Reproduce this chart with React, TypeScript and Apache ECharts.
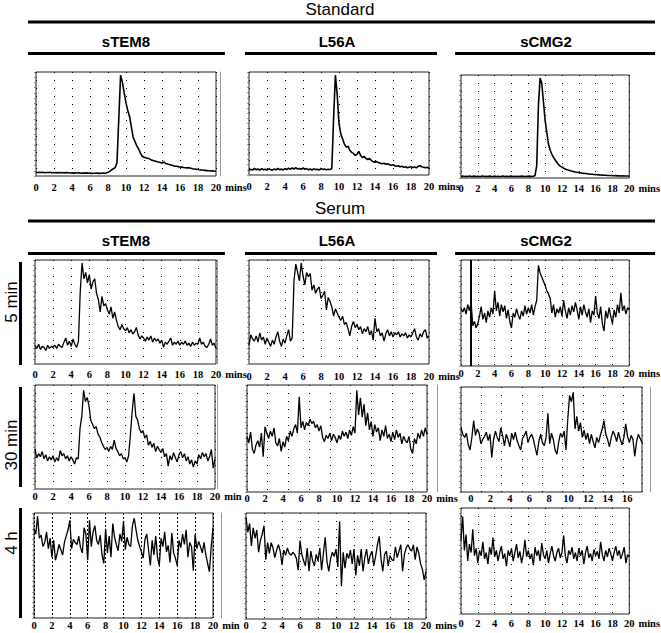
import React, { useEffect, useRef } from "react";
import * as echarts from "echarts";

// ---- sampling grid (minutes) ----
const TIME = [
  0, 0.2, 0.4, 0.6, 0.8, 1, 1.2, 1.4, 1.6, 1.8,
  2, 2.2, 2.4, 2.6, 2.8, 3, 3.2, 3.4, 3.6, 3.8,
  4, 4.2, 4.4, 4.6, 4.8, 5, 5.2, 5.4, 5.6, 5.8,
  6, 6.2, 6.4, 6.6, 6.8, 7, 7.2, 7.4, 7.6, 7.8,
  8, 8.2, 8.4, 8.6, 8.8, 9, 9.2, 9.4, 9.6, 9.8,
  10, 10.2, 10.4, 10.6, 10.8, 11, 11.2, 11.4, 11.6, 11.8,
  12, 12.2, 12.4, 12.6, 12.8, 13, 13.2, 13.4, 13.6, 13.8,
  14, 14.2, 14.4, 14.6, 14.8, 15, 15.2, 15.4, 15.6, 15.8,
  16, 16.2, 16.4, 16.6, 16.8, 17, 17.2, 17.4, 17.6, 17.8,
  18, 18.2, 18.4, 18.6, 18.8, 19, 19.2, 19.4, 19.6, 19.8,
  20,
];

// ---- signal (% of full scale) ----
const STD_STEM8 = [
  3.5, 3.4, 3.6, 3.3, 3.5, 3.2, 3.4, 3.3, 3.5, 3.1,
  3.2, 3.4, 3.0, 3.3, 3.1, 3.2, 3.0, 3.3, 3.1, 2.9,
  3.0, 2.8, 3.1, 2.9, 3.0, 2.7, 2.9, 2.8, 3.0, 2.6,
  2.8, 2.5, 2.7, 2.6, 2.8, 2.5, 2.6, 2.8, 2.7, 2.9,
  3.5, 4.5, 6, 7, 8, 13, 55, 97, 90, 80,
  70, 63, 57, 47, 37, 33, 29, 26, 22, 19,
  18, 17.5, 17, 16.5, 15.5, 15, 14.5, 14, 13.5, 13,
  12.5, 13.5, 12, 11.5, 11, 10.5, 10, 9.5, 9.3, 9,
  8.7, 8.5, 8.2, 8, 7.8, 8, 7.5, 7, 6.8, 6.5,
  6.2, 6, 5.8, 5.6, 5.4, 5.2, 5, 4.8, 5, 4.6,
  4.5,
];
const STD_L56A = [
  4.5, 5.5, 4.8, 6.5, 5.0, 5.8, 4.6, 6.2, 5.1, 5.6,
  4.8, 6.0, 5.2, 4.7, 5.9, 5.0, 6.3, 5.2, 5.7, 4.9,
  6.1, 5.3, 6.6, 5.4, 6.9, 5.6, 7.2, 5.8, 6.4, 5.5,
  6.8, 5.6, 6.2, 5.0, 5.8, 4.9, 6.0, 5.2, 5.5, 4.8,
  6.5, 5.4, 5.9, 5.0, 5.6, 5.3, 6.0, 55, 97, 78,
  50, 40, 35, 30, 27, 28, 24, 22, 21, 19,
  20, 23, 19, 17, 18, 16, 15, 16, 14, 13,
  12.5, 13, 12, 11.5, 11, 11.5, 10.5, 11, 10, 9.5,
  10, 9, 8.5, 9, 8, 8.5, 7.5, 8, 7, 7.5,
  8, 7.2, 7.8, 7, 8.5, 9, 8, 7.5, 7, 7.5,
  6.5,
];
const STD_SCMG2 = [
  1.5, 1.8, 1.4, 1.7, 1.5, 1.9, 1.4, 1.6, 1.8, 1.5,
  1.7, 1.4, 1.6, 1.9, 1.5, 1.7, 1.4, 1.8, 1.6, 1.5,
  1.8, 1.5, 1.7, 1.4, 1.6, 1.9, 1.5, 1.7, 1.4, 1.6,
  1.8, 1.5, 1.6, 1.4, 1.7, 1.5, 1.8, 1.6, 1.4, 1.7,
  1.6, 1.8, 1.5, 1.7, 2.5, 12, 70, 97, 92, 74,
  56, 44, 33, 27, 23, 20, 17.5, 15, 13, 11.5,
  10.5, 9.5, 8.8, 8, 7.5, 7, 6.6, 6.2, 5.8, 5.5,
  5.2, 5, 4.7, 4.5, 4.3, 4.1, 3.9, 3.7, 3.6, 3.4,
  3.3, 3.1, 3, 2.9, 2.8, 2.7, 2.6, 2.5, 2.4, 2.5,
  2.3, 2.2, 2.3, 2.1, 2.2, 2.0, 2.1, 1.9, 2.0, 1.9,
  1.8,
];
const MIN5_STEM8 = [
  18, 15, 19, 14, 17, 16, 13, 18, 15, 17,
  16, 18, 15, 19, 17, 16, 21, 25, 18, 22,
  17, 24, 19, 16, 22, 70, 97, 82, 88, 78,
  86, 72, 79, 82, 68, 62, 50, 65, 56, 58,
  52, 48, 55, 44, 50, 42, 36, 33, 38, 34,
  32, 35, 30, 33, 29, 31, 35, 28, 24, 27,
  25, 22, 26, 23, 27, 21, 25, 22, 24, 20,
  23, 16, 21, 19, 22, 25, 18, 21, 19, 22,
  18, 21, 19, 22, 18, 20, 17, 21, 18, 20,
  19, 25, 19, 21, 17, 16, 19, 24, 18, 20,
  15,
];
const MIN5_L56A = [
  18, 28, 24, 22, 27, 21, 30, 23, 26, 19,
  25, 21, 17, 23, 19, 26, 31, 22, 17, 24,
  20, 27, 33, 22, 25, 80, 96, 88, 80, 97,
  85, 76, 88, 84, 87, 71, 76, 68, 72, 74,
  63, 66, 70, 52, 64, 60, 55, 46, 53, 49,
  45, 42, 46, 38, 40, 34, 27, 36, 41, 35,
  38, 33, 36, 29, 34, 31, 36, 28, 32, 23,
  44, 31, 34, 27, 30, 22, 29, 33, 27, 31,
  26, 30, 28, 31, 26, 29, 27, 30, 25, 28,
  26, 30, 34, 26, 23, 29, 26, 31, 33, 25,
  27,
];
const MIN5_SCMG2 = [
  54, 51, 55, 49, 58, 52, 60, 38, 42, 36,
  40, 47, 56, 44, 50, 41, 52, 46, 55, 49,
  71, 52, 60, 47, 58, 51, 57, 45, 53, 42,
  36, 50, 46, 54, 48, 44, 52, 47, 57, 49,
  55, 50, 58, 48, 56, 62, 95, 88, 84, 80,
  76, 71, 68, 64, 50, 58, 46, 54, 50, 56,
  47, 62, 52, 45, 55, 48, 57, 51, 60, 53,
  44, 56, 48, 58, 51, 46, 54, 41, 52, 48,
  66, 50, 45, 56, 40, 33, 52, 45, 55, 47,
  40, 53, 46, 58, 50, 69, 52, 57, 49, 55,
  53,
];
const MIN30_STEM8 = [
  38, 30, 34, 31, 36, 29, 33, 27, 31, 28,
  32, 26, 30, 27, 37, 32, 34, 29, 32, 27,
  31, 28, 24, 30, 29, 58, 70, 95, 84, 88,
  80, 66, 62, 58, 60, 53, 50, 45, 41, 38,
  40, 36, 41, 38, 47, 39, 36, 32, 34, 29,
  30, 26, 32, 52, 75, 92, 70, 66, 58, 54,
  56, 49, 52, 42, 46, 40, 44, 36, 41, 38,
  35, 39, 31, 34, 22, 32, 28, 35, 30, 26,
  33, 36, 30, 34, 27, 31, 24, 28, 21, 27,
  24, 33, 29, 35, 31, 34, 27, 31, 38, 20,
  29,
];
const MIN30_L56A = [
  52, 46, 56, 40, 36, 44, 48, 42, 55, 33,
  61, 55, 50, 57, 52, 60, 46, 43, 50, 38,
  47, 42, 52, 48, 57, 52, 59, 63, 55, 89,
  60, 66, 58, 65, 62, 68, 64, 66, 60, 63,
  57, 62, 51, 47, 53, 50, 55, 48, 54, 51,
  46, 53, 49, 57, 52, 56, 50, 58, 53, 61,
  55, 95, 72, 88, 70, 82, 62, 74, 58, 66,
  52, 63, 56, 60, 48, 58, 52, 62, 50, 54,
  47, 56, 49, 58, 51, 55, 45, 52, 48, 46,
  52, 40, 36, 50, 45, 55, 50, 58, 52, 60,
  54,
];
const MIN30_SCMG2 = [
  61, 55, 52, 56, 45, 40, 52, 68, 54, 60,
  56, 46, 50, 53, 57, 49, 55, 33, 50, 58,
  52, 48, 61, 54, 44, 55, 50, 43, 56, 50,
  57, 49, 44, 40, 51, 54, 58, 47, 52, 55,
  50, 42, 35, 48, 55, 47, 44, 52, 75, 46,
  56, 50, 40, 36, 48, 56, 52, 58, 40, 70,
  92, 86, 95, 60, 72, 58, 66, 52, 59, 50,
  56, 46, 55, 48, 42, 52, 47, 54, 60, 68,
  55, 50, 43, 52, 58, 54, 48, 57, 50, 45,
  52, 65, 53, 47, 54, 50, 34, 48, 55, 51,
  47,
];
const H4_STEM8 = [
  85, 80, 97, 76, 79, 68, 72, 82, 66, 76,
  58, 74, 55, 62, 70, 65, 60, 72, 78, 84,
  93, 66, 75, 72, 70, 78, 67, 62, 86, 80,
  55, 93, 68, 82, 88, 74, 70, 79, 60, 52,
  85, 62, 78, 58, 90, 77, 70, 64, 80, 73,
  92, 65, 77, 70, 68, 88, 95, 84, 74, 68,
  63, 57, 75, 80, 65, 50, 74, 60, 78, 58,
  50, 76, 68, 82, 63, 69, 53, 81, 62, 57,
  50, 74, 67, 80, 70, 84, 58, 72, 68, 45,
  80, 66, 73, 68, 62, 72, 60, 52, 44, 68,
  86,
];
const H4_L56A = [
  96, 82, 90, 69, 86, 76, 84, 63, 74, 80,
  88, 56, 72, 62, 72, 67, 58, 65, 70, 64,
  51, 65, 60, 67, 62, 60, 63, 61, 57, 46,
  74, 61, 55, 50, 67, 45, 64, 55, 50, 61,
  55, 67, 46, 62, 77, 54, 45, 57, 63, 59,
  66, 49, 92, 31, 63, 48, 62, 57, 65, 52,
  66, 41, 60, 50, 66, 45, 58, 66, 52, 60,
  64, 50, 59, 70, 78, 57, 45, 61, 64, 50,
  60, 56, 55, 68, 58, 64, 70, 45, 61, 67,
  70, 66, 64, 70, 56, 68, 62, 52, 47, 37,
  45,
];
const H4_SCMG2 = [
  70, 92, 60, 75, 50, 66, 58, 80, 55, 62,
  48, 60, 55, 68, 52, 58, 47, 63, 56, 72,
  54, 60, 50, 58, 64, 52, 57, 45, 60, 55,
  62, 50, 58, 66, 53, 59, 48, 56, 70, 54,
  60, 52, 57, 46, 63, 55, 60, 50, 67, 56,
  52, 60, 48, 57, 64, 55, 50, 58, 62, 53,
  58, 74, 55, 48, 60, 56, 63, 52, 58, 50,
  62, 55, 60, 47, 58, 64, 53, 57, 50, 61,
  55, 59, 52, 68, 56, 50, 60, 54, 62, 57,
  50, 58, 64, 55, 60, 52, 57, 63, 48, 56,
  54,
];

// ---- texts / tick labels ----
const SECTION_LABELS = ["Standard", "Serum"];
const COLUMN_LABELS = ["sTEM8", "L56A", "sCMG2"];
const ROW_LABELS = ["5 min", "30 min", "4 h"];
const TICKS_FULL = [0, 2, 4, 6, 8, 10, 12, 14, 16, 18, 20];
const TICKS_SHORT = [0, 2, 4, 6, 8, 10, 12, 14, 16];
const ARTIFACT_TIME = 1.1; // stray vertical line in 5 min sCMG2 trace

const PANEL_DATA = [
  STD_STEM8, STD_L56A, STD_SCMG2,
  MIN5_STEM8, MIN5_L56A, MIN5_SCMG2,
  MIN30_STEM8, MIN30_L56A, MIN30_SCMG2,
  H4_STEM8, H4_L56A, H4_SCMG2,
];

// ---- layout (px) ----
type Lay = {
  l: number; t: number; w: number; h: number;
  labelMin: number; labelMax: number; ticks: number[]; dotMax: number; unit: string;
  dash: number[]; margin: number; rOff: number | null;
};
const LAYOUT: Lay[] = [
  { l: 36, t: 72, w: 180, h: 104, labelMin: 0, labelMax: 20, ticks: TICKS_FULL, dotMax: 20, unit: "mins", dash: [1, 7], margin: 6, rOff: 4 },
  { l: 249, t: 72, w: 180, h: 103, labelMin: 0, labelMax: 20, ticks: TICKS_FULL, dotMax: 20, unit: "mins", dash: [1, 7], margin: 6, rOff: null },
  { l: 461, t: 75, w: 180, h: 103, labelMin: 0, labelMax: 20, ticks: TICKS_FULL, dotMax: 20, unit: "mins", dash: [1, 7], margin: 5, rOff: null },
  { l: 35, t: 260, w: 181, h: 104, labelMin: 0, labelMax: 20, ticks: TICKS_FULL, dotMax: 20, unit: "mins", dash: [1, 7], margin: 5, rOff: 1 },
  { l: 249, t: 260, w: 180, h: 104, labelMin: 0, labelMax: 20, ticks: TICKS_FULL, dotMax: 20, unit: "mins", dash: [1, 7], margin: 7, rOff: null },
  { l: 461, t: 260, w: 178, h: 106, labelMin: 0, labelMax: 20, ticks: TICKS_FULL, dotMax: 20, unit: "mins", dash: [1, 7], margin: 2, rOff: null },
  { l: 35, t: 385, w: 180, h: 104, labelMin: 0, labelMax: 20, ticks: TICKS_FULL, dotMax: 20, unit: "min", dash: [1, 7], margin: 2, rOff: 2 },
  { l: 247, t: 385, w: 180, h: 107, labelMin: 0, labelMax: 20, ticks: TICKS_FULL, dotMax: 17.4, unit: "mins", dash: [1, 7], margin: 1, rOff: 10 },
  { l: 461, t: 387, w: 181, h: 105, labelMin: -1, labelMax: 17.5, ticks: TICKS_SHORT, dotMax: 17.8, unit: "", dash: [1, 7], margin: 1, rOff: 8 },
  { l: 34, t: 513, w: 179, h: 105, labelMin: 0, labelMax: 20, ticks: TICKS_FULL, dotMax: 20, unit: "min", dash: [2, 2], margin: 2, rOff: 8 },
  { l: 246, t: 513, w: 180, h: 106, labelMin: 0, labelMax: 20, ticks: TICKS_FULL, dotMax: 20, unit: "mins", dash: [1, 7], margin: 1, rOff: null },
  { l: 461, t: 508, w: 180, h: 106, labelMin: 0, labelMax: 20, ticks: TICKS_FULL, dotMax: 20, unit: "mins", dash: [1, 7], margin: 4, rOff: null },
];

const SANS = '"Liberation Sans", Arial, sans-serif';
const SERIF = '"Liberation Serif", "Times New Roman", serif';

function buildOption() {
  const grid: any[] = [];
  const xAxis: any[] = [];
  const yAxis: any[] = [];
  const series: any[] = [];
  LAYOUT.forEach((p, i) => {
    grid.push({
      left: p.l, top: p.t, width: p.w, height: p.h,
      show: true, borderColor: "#222", borderWidth: 1, backgroundColor: "transparent",
    });
    // data axis
    xAxis.push({ gridIndex: i, type: "value", min: 0, max: 20, show: false });
    // label axis
    xAxis.push({
      gridIndex: i, type: "value", min: p.labelMin, max: p.labelMax, position: "bottom",
      axisLine: { show: false, onZero: false }, axisTick: { show: false }, splitLine: { show: false },
      axisLabel: {
        show: true, color: "#000", fontFamily: SERIF, fontSize: 10.5, fontWeight: "bold",
        margin: p.margin, customValues: p.ticks, formatter: (v: number) => String(v),
      },
      name: p.unit, nameLocation: "end", nameGap: 5,
      nameTextStyle: {
        color: "#000", fontFamily: SERIF, fontSize: 10.5, fontWeight: "bold", align: "left",
        verticalAlign: "top", padding: [p.margin, 0, 0, 0],
      },
    });
    // dotted grid axis
    xAxis.push({
      gridIndex: i, type: "value", min: 0, max: p.dotMax, interval: 2, position: "top",
      axisLine: { show: false, onZero: false }, axisTick: { show: false }, axisLabel: { show: false },
      splitLine: { show: true, lineStyle: { type: p.dash, color: "#000", width: 1 } },
    });
    yAxis.push({
      gridIndex: i, type: "value", min: 0, max: 100, interval: 5,
      axisLine: { show: false, onZero: false }, axisLabel: { show: false }, splitLine: { show: false },
      axisTick: { show: true, length: 2, lineStyle: { color: "#555", width: 0.6 } },
    });
    yAxis.push({
      gridIndex: i, type: "value", min: 0, max: 100, position: "right", offset: p.rOff ?? 0,
      axisLine: { show: p.rOff !== null, onZero: false, lineStyle: { color: "#999", width: 1 } },
      axisTick: { show: false }, axisLabel: { show: false }, splitLine: { show: false },
    });
    const s: any = {
      type: "line", xAxisIndex: i * 3, yAxisIndex: i * 2,
      data: TIME.map((t, k) => [t, PANEL_DATA[i][k]]),
      showSymbol: false, silent: true,
      lineStyle: { color: "#000", width: i < 3 ? 1.6 : 1.3 },
    };
    if (i === 5) {
      s.markLine = {
        symbol: "none", silent: true, label: { show: false },
        lineStyle: { color: "#000", width: 2, type: "solid" },
        data: [{ xAxis: ARTIFACT_TIME }],
      };
    }
    series.push(s);
  });

  const text = (t: string, x: number, y: number, size: number, weight: string, rot = 0) => ({
    type: "text", x, y, rotation: rot,
    style: {
      text: t, fill: "#000", fontFamily: SANS, fontSize: size, fontWeight: weight,
      align: "center", verticalAlign: "middle",
    },
  });
  const bar = (x: number, y: number, w: number, h: number) => ({
    type: "rect", shape: { x, y, width: w, height: h }, style: { fill: "#000" },
  });
  const colX = [126, 337, 546];
  const colSpan = [[28, 225], [245, 437], [455, 655]];
  const graphic: any[] = [
    text(SECTION_LABELS[0], 340, 9, 17, "normal"),
    bar(28, 20.5, 627, 3),
    text(SECTION_LABELS[1], 340, 208, 17, "normal"),
    bar(28, 219.5, 627, 3),
  ];
  COLUMN_LABELS.forEach((c, k) => {
    graphic.push(text(c, colX[k], 41, 15, "bold"));
    graphic.push(bar(colSpan[k][0], 52, colSpan[k][1] - colSpan[k][0], 3));
    graphic.push(text(c, colX[k], 240, 15, "bold"));
    graphic.push(bar(colSpan[k][0], 252, colSpan[k][1] - colSpan[k][0], 3));
  });
  const rowY = [302, 445, 543];
  const rowBar = [[262, 365], [387, 487], [508, 618]];
  ROW_LABELS.forEach((r, k) => {
    graphic.push(text(r, 11, rowY[k], 17, "normal", Math.PI / 2));
    graphic.push(bar(19, rowBar[k][0], 3, rowBar[k][1] - rowBar[k][0]));
  });

  return {
    animation: false,
    backgroundColor: "#fff",
    grid, xAxis, yAxis, series, graphic,
  };
}

export default function App() {
  const ref = useRef<HTMLDivElement>(null);
  useEffect(() => {
    if (!ref.current) return;
    const chart = echarts.init(ref.current, null, { renderer: "svg" });
    chart.setOption(buildOption() as any);
    return () => chart.dispose();
  }, []);
  return (
    <div
      ref={ref}
      style={{ position: "absolute", left: 0, top: 0, width: 661, height: 633, background: "#fff" }}
    />
  );
}
